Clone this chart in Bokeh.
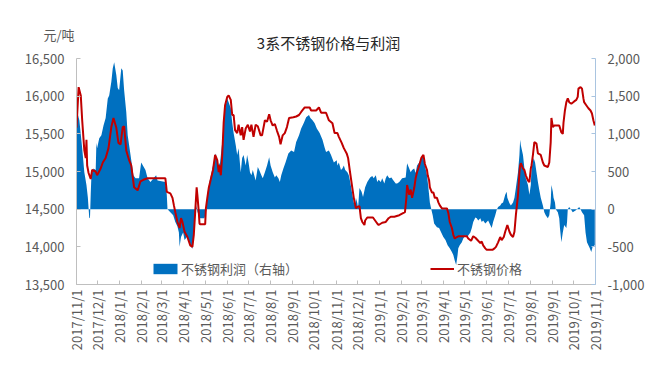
from bokeh.plotting import figure
from bokeh.models import (Range1d, LinearAxis, FixedTicker, NumeralTickFormatter,
                          Legend, LegendItem, Label)
from bokeh.embed import file_html
from bokeh.resources import INLINE
import pandas as pd

# ---------------- data ----------------
title_text = "3系不锈钢价格与利润"
unit_text = "元/吨"
price_name = "不锈钢价格"
profit_name = "不锈钢利润（右轴）"

tick_labels = ["2017/11/1", "2017/12/1", "2018/1/1", "2018/2/1", "2018/3/1", "2018/4/1",
               "2018/5/1", "2018/6/1", "2018/7/1", "2018/8/1", "2018/9/1", "2018/10/1",
               "2018/11/1", "2018/12/1", "2019/1/1", "2019/2/1", "2019/3/1", "2019/4/1",
               "2019/5/1", "2019/6/1", "2019/7/1", "2019/8/1", "2019/9/1", "2019/10/1",
               "2019/11/1"]
left_ticks = [13500, 14000, 14500, 15000, 15500, 16000, 16500]
right_ticks = [-1000, -500, 0, 500, 1000, 1500, 2000]

price_dates = [
"2017-11-01","2017-11-04","2017-11-07","2017-11-09","2017-11-12","2017-11-14","2017-11-15","2017-11-16",
"2017-11-18","2017-11-21","2017-11-23","2017-11-28","2017-11-30","2017-12-05","2017-12-08","2017-12-12",
"2017-12-16","2017-12-20","2017-12-23","2017-12-27","2017-12-30","2018-01-02","2018-01-05","2018-01-07",
"2018-01-10","2018-01-14","2018-01-17","2018-01-21","2018-01-26","2018-01-30","2018-02-03","2018-02-09",
"2018-03-06","2018-03-08","2018-03-13","2018-03-16","2018-03-18","2018-03-20","2018-03-23","2018-03-26",
"2018-03-28","2018-03-30","2018-04-02","2018-04-06","2018-04-10","2018-04-13","2018-04-15","2018-04-17",
"2018-04-19","2018-04-20","2018-04-22","2018-04-23","2018-04-24","2018-05-01","2018-05-02","2018-05-04",
"2018-05-06","2018-05-08","2018-05-12","2018-05-15","2018-05-18","2018-05-20","2018-05-21","2018-05-23",
"2018-05-25","2018-05-27","2018-05-29","2018-06-01","2018-06-03","2018-06-06","2018-06-08","2018-06-10",
"2018-06-12","2018-06-15","2018-06-17","2018-06-20","2018-06-22","2018-06-24","2018-06-27","2018-06-30",
"2018-07-03","2018-07-05","2018-07-08","2018-07-11","2018-07-14","2018-07-18","2018-07-20","2018-07-24",
"2018-07-27","2018-07-30","2018-08-01","2018-08-04","2018-08-07","2018-08-10","2018-08-13","2018-08-15",
"2018-08-18","2018-08-21","2018-08-24","2018-08-27","2018-09-02","2018-09-06","2018-09-10","2018-09-13",
"2018-09-18","2018-09-25","2018-09-27","2018-10-04","2018-10-08","2018-10-11","2018-10-18","2018-10-22",
"2018-10-27","2018-10-30","2018-11-03","2018-11-05","2018-11-09","2018-11-12","2018-11-16","2018-11-18",
"2018-11-20","2018-11-22","2018-11-24","2018-11-26","2018-11-29","2018-12-01","2018-12-04","2018-12-06",
"2018-12-08","2018-12-11","2018-12-12","2018-12-15","2018-12-23","2018-12-26","2018-12-29","2018-12-31",
"2019-01-05","2019-01-10","2019-01-14","2019-01-17","2019-01-22","2019-01-29","2019-02-02","2019-02-06",
"2019-02-08","2019-02-09","2019-02-12","2019-02-14","2019-02-16","2019-02-19","2019-02-21","2019-02-23",
"2019-02-26","2019-03-01","2019-03-04","2019-03-06","2019-03-09","2019-03-10","2019-03-12","2019-03-13",
"2019-03-16","2019-03-18","2019-03-20","2019-03-23","2019-03-25","2019-03-27","2019-03-30","2019-04-06",
"2019-04-08","2019-04-10","2019-04-13","2019-04-15","2019-04-17","2019-04-20","2019-04-22","2019-05-04",
"2019-05-06","2019-05-10","2019-05-13","2019-05-16","2019-05-19","2019-05-23","2019-05-25","2019-05-27",
"2019-05-30","2019-06-01","2019-06-09","2019-06-12","2019-06-14","2019-06-17","2019-06-20","2019-06-22",
"2019-06-25","2019-06-27","2019-06-30","2019-07-03","2019-07-05","2019-07-08","2019-07-10","2019-07-12",
"2019-07-15","2019-07-17","2019-07-18","2019-07-19","2019-07-22","2019-07-24","2019-07-26","2019-07-29",
"2019-07-31","2019-08-02","2019-08-03","2019-08-05","2019-08-07","2019-08-10","2019-08-12","2019-08-16",
"2019-08-19","2019-08-21","2019-08-26","2019-08-28","2019-08-30","2019-08-31","2019-09-02","2019-09-04",
"2019-09-11","2019-09-14","2019-09-16","2019-09-17","2019-09-19","2019-09-21","2019-09-23","2019-09-25",
"2019-09-28","2019-10-02","2019-10-05","2019-10-07","2019-10-08","2019-10-11","2019-10-13","2019-10-15",
"2019-10-16","2019-10-19","2019-10-22","2019-10-25","2019-10-27","2019-10-29","2019-10-31"]
price_values = [
15580,16120,16010,15680,15280,15180,15420,15080,
14980,14900,15020,15000,14950,15040,15120,15180,
15310,15590,15710,15580,15380,15360,15590,15600,
15280,15150,15080,14790,14750,14870,14890,14910,
14910,14730,14710,14650,14550,14460,14330,14250,
14380,14330,14200,14130,14020,14000,14160,14470,
14790,14690,14460,14310,14300,14300,14510,14650,
14780,14860,15020,15220,15150,14990,15080,14950,
15220,15650,15880,15990,16010,15950,15750,15750,
15550,15510,15620,15480,15590,15420,15570,15620,
15530,15620,15460,15620,15600,15480,15480,15680,
15660,15760,15680,15610,15630,15540,15460,15360,
15480,15510,15590,15710,15720,15730,15750,15790,
15850,15850,15810,15810,15850,15780,15780,15680,
15640,15510,15510,15460,15380,15310,15240,15180,
15040,14910,14780,14650,14510,14530,14540,14380,
14330,14290,14350,14390,14390,14350,14310,14290,
14320,14330,14380,14400,14400,14420,14440,14460,
14650,14820,14690,14760,14650,14780,14910,14990,
15080,15180,15220,15100,15020,14950,14880,14790,
14720,14720,14650,14650,14590,14550,14510,14510,
14450,14330,14250,14160,14110,14130,14140,14140,
14110,14080,14140,14120,14090,14050,14070,14020,
13980,13960,13960,13980,14000,14060,14130,14090,
14130,14200,14290,14200,14160,14130,14200,14420,
14690,14990,15080,15110,15040,15020,14950,14880,
14860,15040,15080,15220,15390,15370,15240,15220,
15120,15080,15060,15120,15390,15710,15590,15610,
15610,15520,15500,15650,15810,15920,15970,15920,
15900,15930,15950,15990,16100,16120,16100,15970,
15920,15880,15840,15810,15770,15680,15610]

profit_dates = [
"2017-11-01","2017-11-02","2017-11-05","2017-11-09","2017-11-12","2017-11-15","2017-11-17","2017-11-18",
"2017-11-19","2017-11-20","2017-11-21","2017-11-22","2017-11-25","2017-11-28","2017-11-29","2017-11-30",
"2017-12-03","2017-12-06","2017-12-09","2017-12-12","2017-12-15","2017-12-17","2017-12-20","2017-12-22",
"2017-12-24","2017-12-27","2017-12-29","2017-12-31","2018-01-03","2018-01-05","2018-01-07","2018-01-10",
"2018-01-12","2018-01-16","2018-01-20","2018-01-23","2018-01-28","2018-01-31","2018-02-03","2018-02-06",
"2018-02-09","2018-02-13","2018-02-21","2018-02-23","2018-03-06","2018-03-08","2018-03-09","2018-03-13",
"2018-03-17","2018-03-20","2018-03-23","2018-03-25","2018-03-26","2018-03-28","2018-03-31","2018-04-02",
"2018-04-06","2018-04-09","2018-04-12","2018-04-13","2018-04-14","2018-04-17","2018-04-19","2018-04-20",
"2018-04-23","2018-04-30","2018-05-03","2018-05-04","2018-05-07","2018-05-10","2018-05-13","2018-05-15",
"2018-05-20","2018-05-22","2018-05-25","2018-05-27","2018-05-29","2018-06-01","2018-06-03","2018-06-06",
"2018-06-08","2018-06-10","2018-06-13","2018-06-15","2018-06-17","2018-06-20","2018-06-22","2018-06-24",
"2018-06-27","2018-06-29","2018-07-01","2018-07-03","2018-07-05","2018-07-07","2018-07-11","2018-07-14",
"2018-07-16","2018-07-19","2018-07-21","2018-07-24","2018-07-27","2018-07-30","2018-08-01","2018-08-04",
"2018-08-07","2018-08-09","2018-08-12","2018-08-14","2018-08-16","2018-08-19","2018-08-22","2018-08-26",
"2018-08-30","2018-09-03","2018-09-06","2018-09-10","2018-09-13","2018-09-17","2018-09-20","2018-09-24",
"2018-09-26","2018-09-29","2018-10-02","2018-10-05","2018-10-09","2018-10-13","2018-10-16","2018-10-18",
"2018-10-22","2018-10-25","2018-10-29","2018-11-02","2018-11-03","2018-11-05","2018-11-08","2018-11-10",
"2018-11-12","2018-11-14","2018-11-17","2018-11-19","2018-11-21","2018-11-24","2018-11-26","2018-11-28",
"2018-11-29","2018-12-01","2018-12-02","2018-12-04","2018-12-07","2018-12-09","2018-12-12","2018-12-15",
"2018-12-17","2018-12-19","2018-12-22","2018-12-24","2018-12-27","2018-12-29","2018-12-31","2019-01-03",
"2019-01-05","2019-01-08","2019-01-10","2019-01-12","2019-01-15","2019-01-18","2019-01-20","2019-01-24",
"2019-01-26","2019-01-29","2019-02-02","2019-02-07","2019-02-09","2019-02-12","2019-02-14","2019-02-16",
"2019-02-19","2019-02-21","2019-02-23","2019-02-26","2019-02-28","2019-03-02","2019-03-04","2019-03-06",
"2019-03-09","2019-03-11","2019-03-13","2019-03-15","2019-03-17","2019-03-19","2019-03-23","2019-03-26",
"2019-03-29","2019-04-01","2019-04-04","2019-04-07","2019-04-10","2019-04-13","2019-04-15","2019-04-17",
"2019-04-19","2019-04-21","2019-04-22","2019-04-24","2019-04-27","2019-04-29","2019-05-02","2019-05-04",
"2019-05-06","2019-05-09","2019-05-11","2019-05-13","2019-05-16","2019-05-18","2019-05-20","2019-05-23",
"2019-05-25","2019-05-27","2019-05-30","2019-06-01","2019-06-03","2019-06-06","2019-06-08","2019-06-10",
"2019-06-13","2019-06-15","2019-06-17","2019-06-20","2019-06-22","2019-06-24","2019-06-27","2019-06-29",
"2019-06-30","2019-07-03","2019-07-05","2019-07-08","2019-07-10","2019-07-12","2019-07-15","2019-07-17",
"2019-07-18","2019-07-19","2019-07-22","2019-07-24","2019-07-26","2019-07-29","2019-07-31","2019-08-02",
"2019-08-03","2019-08-06","2019-08-08","2019-08-10","2019-08-12","2019-08-14","2019-08-16","2019-08-19",
"2019-08-21","2019-08-23","2019-08-26","2019-08-28","2019-08-30","2019-08-31","2019-09-02","2019-09-03",
"2019-09-05","2019-09-06","2019-09-09","2019-09-11","2019-09-12","2019-09-14","2019-09-16","2019-09-18",
"2019-09-21","2019-09-22","2019-09-23","2019-09-25","2019-09-28","2019-09-30","2019-10-05","2019-10-09",
"2019-10-11","2019-10-13","2019-10-16","2019-10-18","2019-10-20","2019-10-24","2019-10-26","2019-10-28",
"2019-10-31"]
profit_values = [
1180,1290,1180,810,490,320,150,10,
-120,-110,200,450,540,520,880,810,
940,980,1110,1210,1470,1510,1690,1870,
1950,1780,1610,1580,1870,1840,1580,1290,
980,720,450,410,410,620,570,520,
410,360,450,380,360,190,0,-40,
-80,-170,-230,-310,-500,-370,-310,-410,
-360,-440,-500,-530,-450,-80,50,-30,
-120,-120,0,190,360,490,620,740,
580,620,890,1150,1340,1470,1420,1340,
1150,1010,850,720,810,490,680,720,
580,720,620,490,450,520,380,560,
520,450,410,490,580,690,580,490,
420,450,410,360,450,540,620,740,
780,760,890,980,1070,1150,1220,1250,
1210,1180,1140,1070,1010,920,820,760,
780,720,620,650,580,620,520,540,
580,520,490,450,360,190,90,50,
150,80,10,280,230,160,290,360,
390,420,440,410,450,360,390,360,
410,340,410,450,410,420,390,340,
340,360,410,420,610,540,490,520,
540,480,580,620,650,690,680,580,
450,280,90,0,-80,-190,-240,-250,
-310,-370,-410,-480,-520,-570,-610,-680,
-740,-610,-520,-480,-440,-390,-350,-370,
-350,-310,-250,-170,-110,-120,-150,-120,
-170,-150,-190,-170,-150,-210,-250,-170,
-80,-10,30,50,80,90,190,230,
150,80,50,90,150,280,490,720,
920,850,720,540,410,320,190,320,
540,680,620,490,360,250,150,50,
-40,-80,-120,-80,90,320,230,150,
90,0,-40,-120,-250,-440,-310,-210,
-250,-170,0,30,-10,-40,-10,30,
0,-40,-80,-310,-440,-520,-570,-500,
-480]

# ---------------- figure ----------------
FONT = "Noto Sans CJK SC"
GRAY = "#595959"
AXIS_COLOR = "#BFBFBF"
X0, X1 = pd.Timestamp("2017-11-01"), pd.Timestamp("2019-11-01")
Y0, Y1 = 13500, 16500
R0, R1 = -1000, 2000
FRAME_W, PX_PER_500 = 519, 226 / 6
TOP_EXTRA_PX = 25                      # frame extends above the top tick to hold the title
val_per_px = 500 / PX_PER_500
y_top = Y1 + TOP_EXTRA_PX * val_per_px
r_top = R1 + TOP_EXTRA_PX * val_per_px
days_per_px = (X1 - X0) / FRAME_W

p = figure(width=660, height=384, x_axis_type="datetime",
           x_range=Range1d(start=X0, end=X1), y_range=Range1d(Y0, y_top),
           output_backend="svg", toolbar_location=None,
           min_border_left=76, min_border_right=65, min_border_top=33, min_border_bottom=100)
p.extra_y_ranges = {"right": Range1d(R0, r_top)}
p.xgrid.visible = False
p.ygrid.visible = False
p.outline_line_color = None
p.background_fill_color = "white"
p.border_fill_color = "white"

# unit text as the (left-aligned) plot title, pulled down beside the top tick
p.title.text = unit_text
p.title.align = "left"
p.title.offset = -33
p.title.text_font = FONT
p.title.text_font_size = "13px"
p.title.text_font_style = "normal"
p.title.text_color = GRAY
p.title.standoff = -21

area = p.varea(x=pd.to_datetime(profit_dates), y1=0, y2=profit_values,
               fill_color="#0070C0", y_range_name="right")
line = p.line(pd.to_datetime(price_dates), price_values, line_color="#C00000", line_width=2)

# axes
tick_dt = pd.to_datetime(tick_labels, format="%Y/%m/%d")
tick_ms = [float(t.value // 10**6) for t in tick_dt]
xa = p.xaxis[0]
xa.ticker = FixedTicker(ticks=tick_ms, minor_ticks=[])
xa.major_label_overrides = {ms: lab for ms, lab in zip(tick_ms, tick_labels)}
xa.major_label_orientation = 3.14159265 / 2
xa.major_label_standoff = 5

ya = p.yaxis[0]
ya.ticker = FixedTicker(ticks=left_ticks, minor_ticks=[])
ya.formatter = NumeralTickFormatter(format="0,0")
ya.major_label_standoff = 12
ya.bounds = (Y0, Y1)

ra = LinearAxis(y_range_name="right", ticker=FixedTicker(ticks=right_ticks, minor_ticks=[]),
                formatter=NumeralTickFormatter(format="0,0"), bounds=(R0, R1))
p.add_layout(ra, "right")
ra.major_label_standoff = 12

for ax in (xa, ya, ra):
    ax.axis_line_color = AXIS_COLOR
    ax.major_tick_line_color = AXIS_COLOR
    ax.major_tick_in = 4
    ax.major_tick_out = 0
    ax.minor_tick_line_color = None
    ax.major_label_text_color = GRAY
    ax.major_label_text_font = FONT
    ax.major_label_text_font_size = "13px"
ra.axis_line_color = "#A9C4E0"
ra.major_tick_line_color = "#A9C4E0"

# legends
def make_legend(item, loc, gw, gh, standoff):
    lg = Legend(items=[item], location=loc, orientation="horizontal", padding=0, margin=0,
                background_fill_alpha=0, border_line_color=None,
                glyph_width=gw, glyph_height=gh, label_standoff=standoff,
                label_text_font=FONT, label_text_font_size="13px", label_text_color=GRAY)
    p.add_layout(lg)

make_legend(LegendItem(label=profit_name, renderers=[area]), (74, 6), 30, 13, 1)
make_legend(LegendItem(label=price_name, renderers=[line]), (354, 6), 24, 13, 3)

# chart title inside the (extended) frame, above the top tick
p.add_layout(Label(x=X0 + 252 * days_per_px, y=Y1 + 16 * val_per_px, text=title_text,
                   text_align="center", text_baseline="middle", text_font=FONT,
                   text_font_size="15px", text_color="#262626"))

open("out.html", "w").write(file_html(p, INLINE))
